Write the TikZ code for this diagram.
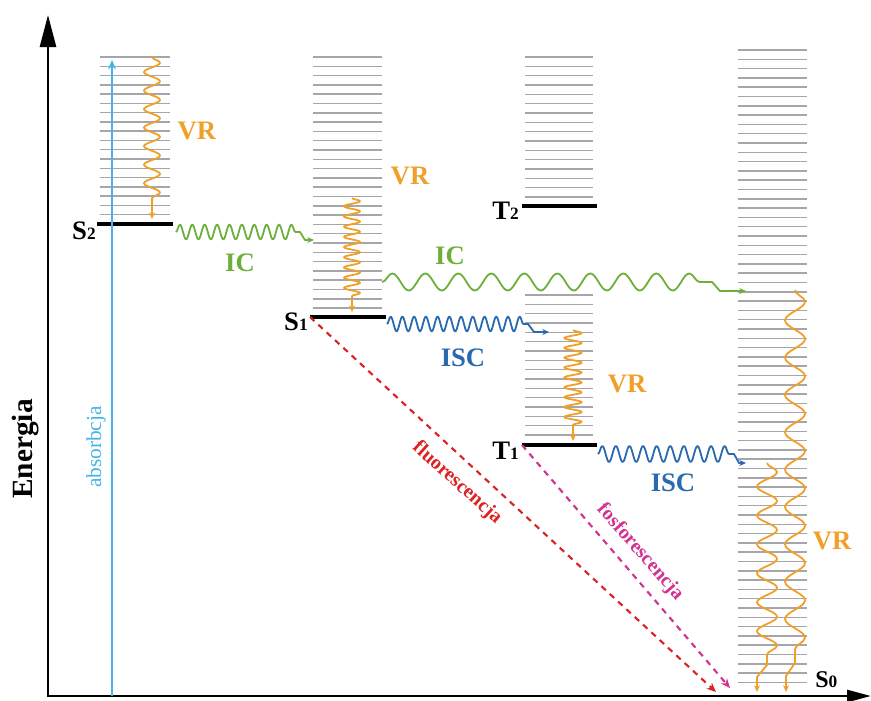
\documentclass[tikz,border=0pt]{standalone}
\usepackage{fontspec}
\setmainfont{Liberation Serif}
\usetikzlibrary{arrows.meta,decorations.pathmorphing}

\definecolor{rungray}{RGB}{165,165,170}
\definecolor{vrorange}{RGB}{240,160,40}
\definecolor{icgreen}{RGB}{110,175,60}
\definecolor{iscblue}{RGB}{40,105,175}
\definecolor{flred}{RGB}{220,35,35}
\definecolor{phmag}{RGB}{210,50,145}
\definecolor{abscyan}{RGB}{70,180,230}

\newcommand{\lsub}[1]{{\fontsize{13}{13}\selectfont #1}}

\tikzset{
  rung/.style={draw=rungray, line width=1.1pt},
  level/.style={line width=3pt},
  lab/.style={font=\bfseries\fontsize{20}{24}\selectfont, inner sep=0pt},
  wave/.style={line width=1.35pt, line join=round},
  tip/.style={-{Stealth[length=5pt,width=4.5pt]}},
  emit/.style={line width=1.6pt, dash pattern=on 4.5pt off 4pt,
    -{Stealth[length=7pt,width=6pt]}},
}

\begin{document}
\begin{tikzpicture}[x=0.75pt, y=-0.75pt]
        \useasboundingbox (0,0) rectangle (871,700);

        % Axes
        \coordinate (O) at (48,696);
        \coordinate (ytop) at (48,15);
        \coordinate (xend) at (871,696);
        \draw[line width=2pt, {Triangle[length=24pt,width=12pt]}-{Triangle[length=18pt,width=9pt]}]
            (ytop) -- (O) -- (xend);
        \node[font=\bfseries\fontsize{22}{24}\selectfont, rotate=90] (energia) at (26,449) {Energia};

        % Vibrational sublevels
        \foreach \i in {0,...,17} \draw[rung] (100,57+9.27*\i) -- (170,57+9.27*\i);
        \foreach \i in {0,...,27} \draw[rung] (313,57+9.3*\i) -- (382,57+9.3*\i);
        \foreach \i in {0,...,15} \draw[rung] (525,57+9.33*\i) -- (593,57+9.33*\i);
        \foreach \i in {0,...,15} \draw[rung] (525,295+9.33*\i) -- (593,295+9.33*\i);
        \foreach \i in {0,...,68} \draw[rung] (738,50+9.3*\i) -- (807,50+9.3*\i);

        % Electronic levels
        \coordinate (S2a) at (97,224);  \coordinate (S2b) at (173,224);
        \coordinate (S1a) at (310,317); \coordinate (S1b) at (386,317);
        \coordinate (T2a) at (522,206); \coordinate (T2b) at (597,206);
        \coordinate (T1a) at (522,445); \coordinate (T1b) at (597,445);
        \draw[level] (S2a) -- (S2b);
        \draw[level] (S1a) -- (S1b);
        \draw[level] (T2a) -- (T2b);
        \draw[level] (T1a) -- (T1b);
        \node[lab, anchor=east] (lS2) at (96,231) {S\lsub{2}};
        \node[lab, anchor=east] (lS1) at (308,322) {S\lsub{1}};
        \node[lab, anchor=east] (lT2) at (519,211) {T\lsub{2}};
        \node[lab, anchor=east] (lT1) at (519,451) {T\lsub{1}};
        \node[lab, anchor=west, font=\bfseries\fontsize{18}{20}\selectfont] (lS0) at (815,680) {S\lsub{0}};

        % Absorption
        \coordinate (absA) at (112,696);
        \coordinate (absB) at (112,60);
        \draw[abscyan, line width=1.6pt, -{Stealth[length=7pt,width=6pt]}] (absA) -- (absB);
        \node[abscyan, rotate=90, font=\fontsize{16}{18}\selectfont] (labs) at (96,447) {absorbcja};

        % Vibrational relaxation
        \coordinate (vr2a) at (152,57); \coordinate (vr2b) at (152,205); \coordinate (vr2c) at (152,219);
        \draw[wave, vrorange, tip] (vr2a)
            decorate[decoration={snake, amplitude=6pt, segment length=13.9pt}] {-- (vr2b)} -- (vr2c);
        \node[lab, vrorange] (lvr2) at (197,131) {VR};

        \coordinate (vr1a) at (352,198); \coordinate (vr1b) at (352,300); \coordinate (vr1c) at (352,312);
        \draw[wave, vrorange, tip] (vr1a)
            decorate[decoration={snake, amplitude=6pt, segment length=7.65pt}] {-- (vr1b)} -- (vr1c);
        \node[lab, vrorange] (lvr1) at (410,176) {VR};

        \coordinate (vrt1a) at (573,330); \coordinate (vrt1b) at (573,429); \coordinate (vrt1c) at (573,441);
        \draw[wave, vrorange, tip] (vrt1a)
            decorate[decoration={snake, amplitude=6.5pt, segment length=7.4pt}] {-- (vrt1b)} -- (vrt1c);
        \node[lab, vrorange] (lvrt1) at (627,384) {VR};

        \coordinate (vr0a) at (795,290); \coordinate (vr0b) at (795,663);
        \coordinate (vr0c) at (786,676); \coordinate (vr0d) at (786,692);
        \draw[wave, vrorange, tip] (vr0a)
            decorate[decoration={snake, amplitude=7.5pt, segment length=28pt}] {-- (vr0b)} -- (vr0c) -- (vr0d);
        \coordinate (vr0e) at (767,463); \coordinate (vr0f) at (767,665);
        \coordinate (vr0g) at (757,677); \coordinate (vr0h) at (757,692);
        \draw[wave, vrorange, tip] (vr0e)
            decorate[decoration={snake, amplitude=7.5pt, segment length=21.7pt}] {-- (vr0f)} -- (vr0g) -- (vr0h);
        \node[lab, vrorange] (lvr0) at (832,541) {VR};

        % Internal conversion
        \coordinate (ic2a) at (176,232); \coordinate (ic2b) at (300,232);
        \coordinate (ic2c) at (305,240); \coordinate (ic2d) at (314,240);
        \draw[wave, icgreen, tip] (ic2a)
            decorate[decoration={snake, amplitude=5.5pt, segment length=9.3pt}] {-- (ic2b)} -- (ic2c) -- (ic2d);
        \node[lab, icgreen] (lic2) at (240,263) {IC};

        \coordinate (ic1a) at (382,282); \coordinate (ic1b) at (712,282);
        \coordinate (ic1c) at (720,291); \coordinate (ic1d) at (746,291);
        \draw[wave, icgreen, tip] (ic1a)
            decorate[decoration={snake, amplitude=6.4pt, segment length=24.75pt}] {-- (ic1b)} -- (ic1c) -- (ic1d);
        \node[lab, icgreen] (lic1) at (450,256) {IC};

        % Intersystem crossing
        \coordinate (isc1a) at (387,324); \coordinate (isc1b) at (528,324);
        \coordinate (isc1c) at (534,332); \coordinate (isc1d) at (549,332);
        \draw[wave, iscblue, tip] (isc1a)
            decorate[decoration={snake, amplitude=5.5pt, segment length=8.8pt}] {-- (isc1b)} -- (isc1c) -- (isc1d);
        \node[lab, iscblue] (lisc1) at (463,358) {ISC};

        \coordinate (isct1a) at (598,454); \coordinate (isct1b) at (734,454);
        \coordinate (isct1c) at (739,463); \coordinate (isct1d) at (746,463);
        \draw[wave, iscblue, tip] (isct1a)
            decorate[decoration={snake, amplitude=6pt, segment length=10.2pt}] {-- (isct1b)} -- (isct1c) -- (isct1d);
        \node[lab, iscblue] (lisct1) at (673,483) {ISC};

        % Radiative transitions
        \coordinate (flEnd) at (716,692);
        \coordinate (phEnd) at (730,688);
        \draw[emit, flred] (S1a) -- (flEnd);
        \node[flred, rotate=-42, font=\bfseries\fontsize{15}{16}\selectfont] (lfl) at (457,483) {fluorescencja};
        \draw[emit, phmag] (T1a) -- (phEnd);
        \node[phmag, rotate=-48.7, font=\bfseries\fontsize{15}{16}\selectfont] (lph) at (640,552) {fosforescencja};
    \end{tikzpicture}
\end{document}
